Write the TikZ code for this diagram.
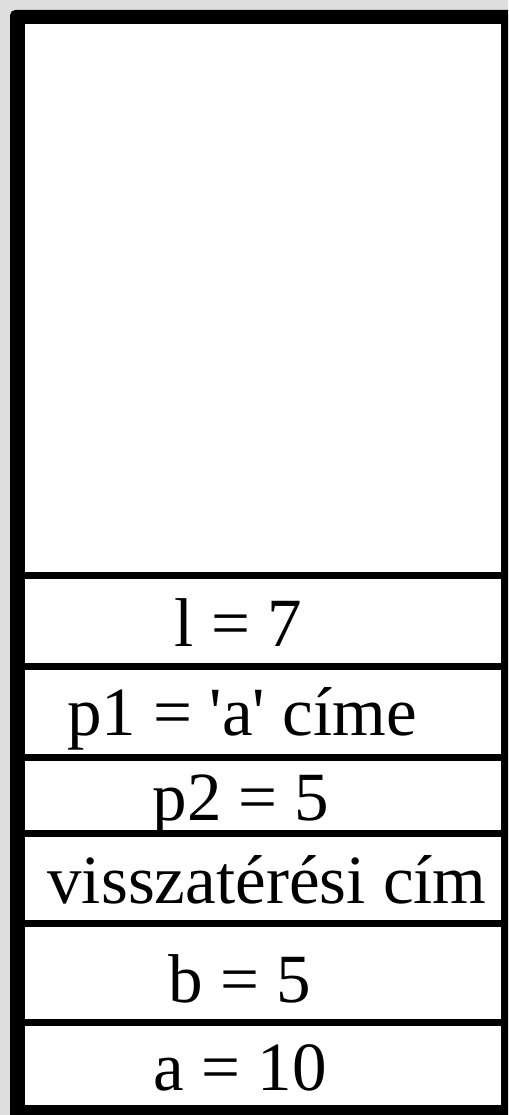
\documentclass[tikz,border=0pt]{standalone}
\usepackage{fontspec}
\setmainfont{Liberation Serif}
\definecolor{bggray}{RGB}{222,222,222}

\begin{document}
\begin{tikzpicture}[x=0.02cm,y=-0.02cm,
  sep/.style={line width=0.14cm},
  cell/.style={anchor=base, inner sep=0pt, font=\fontsize{39.3}{47}\selectfont}]
  \useasboundingbox (0,0) rectangle (508,1115);
  \clip (0,0) rectangle (508,1115);
  \fill[bggray] (0,0) rectangle (508,1115);
  \fill[black, rounded corners=3pt] (10,10) rectangle (530,1135);
  \fill[white] (25,24) rectangle (501,1105);

  \draw[sep] (25,575.5) -- (501,575.5);
  \draw[sep] (25,666.5) -- (501,666.5);
  \draw[sep] (25,757) -- (501,757);
  \draw[sep] (25,833) -- (501,833);
  \draw[sep] (25,923.5) -- (501,923.5);
  \draw[sep] (25,1022) -- (501,1022);

  \node[cell] (loc) at (238.5,646) {l = 7};
  \node[cell] (p1) at (242,735) {p1 = \textquotesingle a\textquotesingle{} címe};
  \node[cell] (p2) at (241,820) {p2 = 5};
  \node[cell] (ret) at (267,903) {visszatérési cím};
  \node[cell] (b) at (240,1002) {b = 5};
  \node[cell] (a) at (240,1090) {a = 10};
\end{tikzpicture}
\end{document}
